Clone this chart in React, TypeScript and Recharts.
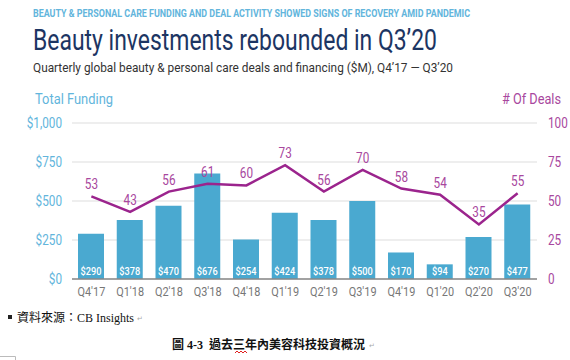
import React from "react";
import {
  ComposedChart,
  Bar,
  Line,
  XAxis,
  YAxis,
  CartesianGrid,
  LabelList,
} from "recharts";

const quarters = [
  "Q4'17", "Q1'18", "Q2'18", "Q3'18", "Q4'18", "Q1'19",
  "Q2'19", "Q3'19", "Q4'19", "Q1'20", "Q2'20", "Q3'20",
];
const funding = [290, 378, 470, 676, 254, 424, 378, 500, 170, 94, 270, 477];
const deals = [53, 43, 56, 61, 60, 73, 56, 70, 58, 54, 35, 55];
const fundingTicks = [0, 250, 500, 750, 1000];
const dealTicks = [0, 25, 50, 75, 100];

const data = quarters.map((q, i) => ({
  quarter: q,
  funding: funding[i],
  deals: deals[i],
}));

const BLUE = "#4aa9d0";
const LIGHT_BLUE = "#62b5dc";
const PURPLE = "#9b248d";
const LIGHT_PURPLE = "#a8479e";
const NAVY = "#1c3563";
const FONT = "Roboto, 'Liberation Sans', sans-serif";
const SERIF = "'Liberation Serif', 'Noto Sans CJK TC', serif";
const SQUEEZE = 0.84; // the original uses a condensed face

// text squeezed horizontally around its anchor point
function Narrow({ x, y, anchor, dy, fill, size, weight, children }: any) {
  return (
    <text
      transform={`translate(${x},${y}) scale(${SQUEEZE},1)`}
      textAnchor={anchor}
      dy={dy}
      fill={fill}
      fontSize={size}
      fontWeight={weight}
      fontFamily={FONT}
    >
      {children}
    </text>
  );
}

const LeftTick = ({ x, y, payload }: any) => (
  <Narrow x={x} y={y} anchor="end" dy="0.35em" fill={LIGHT_BLUE} size={14}>
    {"$" + Number(payload.value).toLocaleString("en-US")}
  </Narrow>
);

const RightTick = ({ x, y, payload }: any) => (
  <Narrow x={x} y={y} anchor="start" dy="0.35em" fill={LIGHT_PURPLE} size={14}>
    {payload.value}
  </Narrow>
);

const QuarterTick = ({ x, y, payload }: any) => (
  <Narrow x={x} y={y} anchor="middle" dy="0.71em" fill="#777" size={13}>
    {payload.value}
  </Narrow>
);

const BarValue = ({ x, y, width, height, value }: any) => (
  <Narrow
    x={Number(x) + Number(width) / 2}
    y={Number(y) + Number(height) - 4}
    anchor="middle"
    fill="#fff"
    size={11}
    weight={500}
  >
    {"$" + value}
  </Narrow>
);

const DealValue = ({ x, y, value }: any) => (
  <Narrow x={x} y={Number(y) - 7} anchor="middle" fill={LIGHT_PURPLE} size={14}>
    {value}
  </Narrow>
);

export default function App() {
  return (
    <div style={{ position: "absolute", left: 0, top: 0, width: 570, height: 360, background: "#fff" }}>
      <ComposedChart
        width={570}
        height={310}
        data={data}
        margin={{ top: 123, right: 10, bottom: 1, left: 12 }}
      >
        <CartesianGrid vertical={false} stroke="#dddddd" yAxisId="left" />
        <XAxis
          dataKey="quarter"
          height={30}
          tickLine={false}
          axisLine={{ stroke: "#888", strokeWidth: 1.5 }}
          tick={<QuarterTick />}
          interval={0}
        />
        <YAxis
          yAxisId="left"
          domain={[0, 1000]}
          ticks={fundingTicks}
          width={60}
          axisLine={false}
          tickLine={false}
          tickMargin={4}
          tick={<LeftTick />}
        />
        <YAxis
          yAxisId="right"
          orientation="right"
          domain={[0, 100]}
          ticks={dealTicks}
          width={23}
          axisLine={false}
          tickLine={false}
          tickMargin={5}
          tick={<RightTick />}
        />
        <Bar yAxisId="left" dataKey="funding" fill={BLUE} barSize={26} isAnimationActive={false}>
          <LabelList dataKey="funding" content={<BarValue />} />
        </Bar>
        <Line
          yAxisId="right"
          dataKey="deals"
          stroke={PURPLE}
          strokeWidth={2.5}
          dot={false}
          type="linear"
          isAnimationActive={false}
        >
          <LabelList dataKey="deals" content={<DealValue />} />
        </Line>
      </ComposedChart>

      <svg
        width={570}
        height={360}
        style={{ position: "absolute", left: 0, top: 0, pointerEvents: "none" }}
      >
        <text x={33} y={17} fontFamily={FONT} fontSize={10.5} fontWeight={700} fill={LIGHT_BLUE}
          textLength={437} lengthAdjust="spacingAndGlyphs">
          BEAUTY &amp; PERSONAL CARE FUNDING AND DEAL ACTIVITY SHOWED SIGNS OF RECOVERY AMID PANDEMIC
        </text>
        <text x={33} y={50} fontFamily={FONT} fontSize={29} fill={NAVY}
          textLength={404} lengthAdjust="spacingAndGlyphs">
          Beauty investments rebounded in Q3’20
        </text>
        <text x={33} y={72} fontFamily={FONT} fontSize={13} fill="#333"
          textLength={420} lengthAdjust="spacingAndGlyphs">
          Quarterly global beauty &amp; personal care deals and financing ($M), Q4’17 — Q3’20
        </text>
        <text x={35} y={104} fontFamily={FONT} fontSize={14} fill={LIGHT_BLUE}
          textLength={78} lengthAdjust="spacingAndGlyphs">
          Total Funding
        </text>
        <text x={502} y={104} fontFamily={FONT} fontSize={14} fill={LIGHT_PURPLE}
          textLength={59} lengthAdjust="spacingAndGlyphs">
          # Of Deals
        </text>

        <rect x={8} y={315} width={4} height={4} fill="#222" />
        <text x={17} y={322} fontFamily={SERIF} fontSize={12} fill="#111">
          資料來源：CB Insights
        </text>
        <text x={137} y={321} fontFamily="'DejaVu Sans', sans-serif" fontSize={7} fill="#aaa">↵</text>

        <text x={172} y={349} fontFamily={SERIF} fontSize={12} fontWeight={700} fill="#111"
          style={{ whiteSpace: "pre" }}>
          圖 4-3  過去三年內美容科技投資概況
        </text>
        <text x={369} y={348} fontFamily="'DejaVu Sans', sans-serif" fontSize={7} fill="#aaa">↵</text>
        <polyline
          points="235,353 237,351 239,353 241,351 243,353 245,351 247,353"
          fill="none"
          stroke="#e02020"
          strokeWidth={1}
        />
        <path d="M0,356.5 H15.5 V360" fill="none" stroke="#bbb" strokeWidth={1} />
      </svg>
    </div>
  );
}
